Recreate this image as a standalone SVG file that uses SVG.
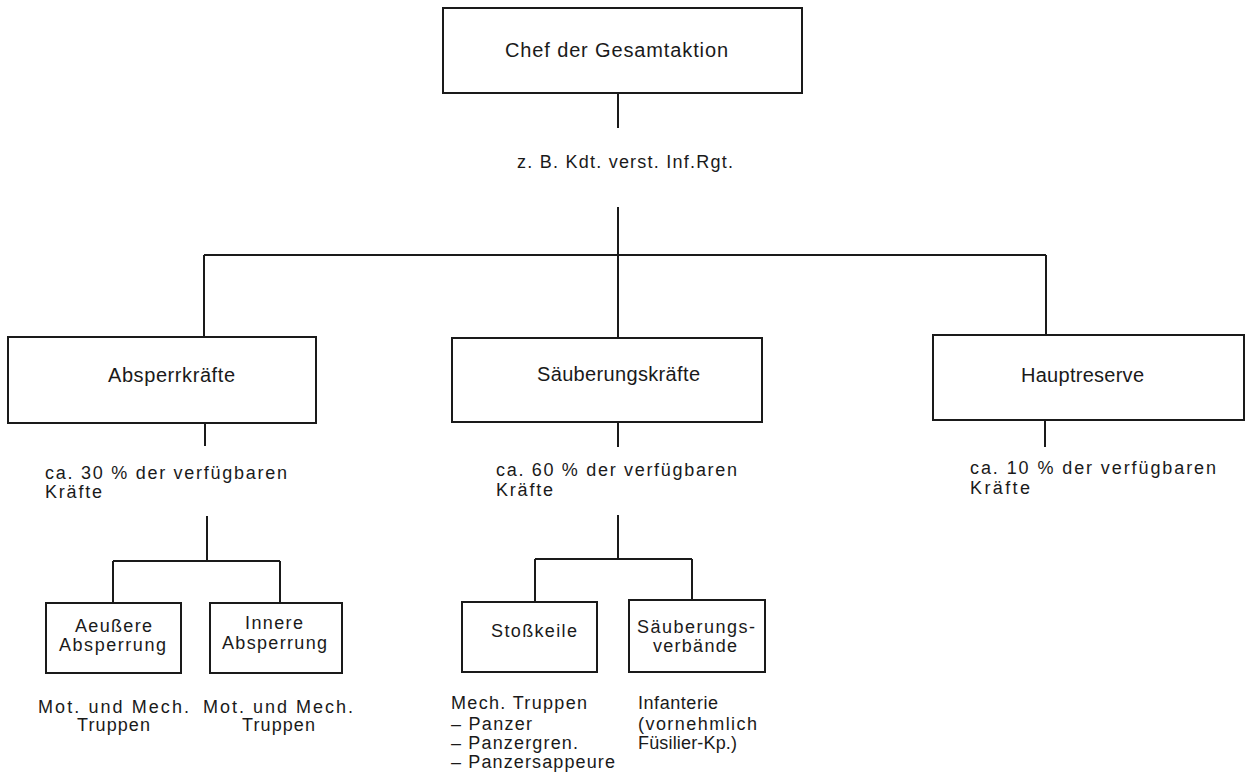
<svg xmlns="http://www.w3.org/2000/svg" width="1245" height="778" viewBox="0 0 1245 778">
<style>
.box{fill:none;stroke:#1a1a1a;stroke-width:2}
.ln{fill:none;stroke:#1a1a1a;stroke-width:2}
text{font-family:"Liberation Sans",Arial,sans-serif;fill:#1a1a1a}
.bt{font-size:20px}
.pt{font-size:18px}
.lt{font-size:18px}
</style>
<rect width="1245" height="778" fill="#ffffff"/>
<g id="connectors">
<path class="ln" d="M618 93V128M618 207V255M204 255H1046M204 255V337M618 255V338M1046 255V335"/>
<path class="ln" d="M205 423V446M618 422V447M1045 420V447"/>
<path class="ln" d="M207 516V561M113 561H280M113 561V603M280 561V603"/>
<path class="ln" d="M618 515V559M535 559H692M535 559V602M692 559V600"/>
</g>
<g id="chef">
<rect class="box" x="443" y="8" width="359" height="85"/>
<text class="bt" x="505" y="57" textLength="223" lengthAdjust="spacing">Chef der Gesamtaktion</text>
</g>
<g id="kdt">
<text class="pt" x="517" y="168" textLength="216" lengthAdjust="spacing">z. B. Kdt. verst. Inf.Rgt.</text>
</g>
<g id="absperr">
<rect class="box" x="8" y="337" width="308" height="86"/>
<text class="bt" x="108" y="382" textLength="127" lengthAdjust="spacing">Absperrkräfte</text>
<text class="pt" x="45" y="479" textLength="242" lengthAdjust="spacing">ca. 30 % der verfügbaren</text>
<text class="pt" x="45" y="498" textLength="57" lengthAdjust="spacing">Kräfte</text>
</g>
<g id="saeuber">
<rect class="box" x="452" y="338" width="310" height="84"/>
<text class="bt" x="537" y="381" textLength="163" lengthAdjust="spacing">Säuberungskräfte</text>
<text class="pt" x="496" y="476" textLength="241" lengthAdjust="spacing">ca. 60 % der verfügbaren</text>
<text class="pt" x="496" y="496" textLength="57" lengthAdjust="spacing">Kräfte</text>
</g>
<g id="haupt">
<rect class="box" x="933" y="335" width="311" height="85"/>
<text class="bt" x="1021" y="382" textLength="123" lengthAdjust="spacing">Hauptreserve</text>
<text class="pt" x="970" y="474" textLength="246" lengthAdjust="spacing">ca. 10 % der verfügbaren</text>
<text class="pt" x="970" y="494" textLength="60" lengthAdjust="spacing">Kräfte</text>
</g>
<g id="aeussere">
<rect class="box" x="46" y="603" width="135" height="70"/>
<text class="lt" x="75" y="632" textLength="77" lengthAdjust="spacing">Aeußere</text>
<text class="lt" x="59" y="651" textLength="107" lengthAdjust="spacing">Absperrung</text>
<text class="lt" x="38" y="713" textLength="151" lengthAdjust="spacing">Mot. und Mech.</text>
<text class="lt" x="77" y="731" textLength="73" lengthAdjust="spacing">Truppen</text>
</g>
<g id="innere">
<rect class="box" x="210" y="603" width="132" height="70"/>
<text class="lt" x="245" y="629" textLength="58" lengthAdjust="spacing">Innere</text>
<text class="lt" x="222" y="649" textLength="105" lengthAdjust="spacing">Absperrung</text>
<text class="lt" x="203" y="713" textLength="150" lengthAdjust="spacing">Mot. und Mech.</text>
<text class="lt" x="242" y="731" textLength="73" lengthAdjust="spacing">Truppen</text>
</g>
<g id="stosskeile">
<rect class="box" x="462" y="602" width="135" height="70"/>
<text class="lt" x="491" y="637" textLength="86" lengthAdjust="spacing">Stoßkeile</text>
<text class="lt" x="451" y="709" textLength="136" lengthAdjust="spacing">Mech. Truppen</text>
<text class="lt" x="451" y="730" textLength="81" lengthAdjust="spacing">– Panzer</text>
<text class="lt" x="451" y="749" textLength="127" lengthAdjust="spacing">– Panzergren.</text>
<text class="lt" x="451" y="768" textLength="164" lengthAdjust="spacing">– Panzersappeure</text>
</g>
<g id="saeuberungsverbaende">
<rect class="box" x="629" y="600" width="136" height="72"/>
<text class="lt" x="637" y="633" textLength="118" lengthAdjust="spacing">Säuberungs-</text>
<text class="lt" x="653" y="652" textLength="84" lengthAdjust="spacing">verbände</text>
<text class="lt" x="638" y="709" textLength="80" lengthAdjust="spacing">Infanterie</text>
<text class="lt" x="638" y="730" textLength="119" lengthAdjust="spacing">(vornehmlich</text>
<text class="lt" x="638" y="749" textLength="99" lengthAdjust="spacing">Füsilier-Kp.)</text>
</g>
</svg>
